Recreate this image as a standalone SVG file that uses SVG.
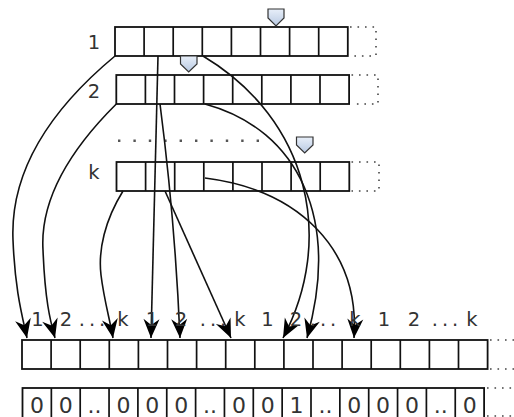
<svg xmlns="http://www.w3.org/2000/svg" width="514" height="417" viewBox="0 0 514 417">
<defs>
<style>
.box{fill:#fff;stroke:#111;stroke-width:1.8}
.div{fill:none;stroke:#111;stroke-width:1.7}
.dot{fill:none;stroke:#444;stroke-width:1.6;stroke-dasharray:1.6 5.9}
.row{fill:none;stroke:#555;stroke-width:2.4;stroke-dasharray:2.4 13}
.conn{fill:none;stroke:#111;stroke-width:1.6;marker-end:url(#ah)}
.lbl{font-family:"DejaVu Sans",sans-serif;font-size:19.5px;fill:#333;text-anchor:middle}
.dots{letter-spacing:4px}
.zero{font-family:"DejaVu Sans",sans-serif;font-size:22px;fill:#333;text-anchor:middle}
.mk{fill:url(#mg);stroke:#333;stroke-width:1.2}
</style>
<linearGradient id="mg" x1="0" y1="0" x2="0" y2="1">
<stop offset="0" stop-color="#e8eff9"/>
<stop offset="1" stop-color="#b8c9e2"/>
</linearGradient>
<marker id="ah" markerUnits="userSpaceOnUse" viewBox="-20 -10 22 20" markerWidth="22" markerHeight="20" refX="0" refY="0" orient="auto">
<path d="M0,0 L-19,-8 L-13,0 L-19,8 Z" fill="#000"/>
</marker>
</defs>

<g id="array-1">
<text class="lbl" x="94" y="49">1</text>
<rect class="box" x="115" y="27" width="232.8" height="29"/>
<path class="div" d="M144.1,27V56M173.2,27V56M202.3,27V56M231.4,27V56M260.5,27V56M289.6,27V56M318.7,27V56"/>
<path class="dot" d="M350,27H376V56H350"/>
<path class="mk" d="M268,9H284V18L276,26L268,18Z"/>
</g>

<g id="array-2">
<text class="lbl" x="94" y="97.5">2</text>
<rect class="box" x="116.3" y="75" width="232.8" height="29"/>
<path class="div" d="M145.4,75V104M174.5,75V104M203.6,75V104M232.7,75V104M261.8,75V104M290.9,75V104M320,75V104"/>
<path class="dot" d="M351.5,75H378V104H351.5"/>
<path class="mk" d="M180.5,56H197V64L188.7,72L180.5,64Z"/>
</g>

<g id="ellipsis-rows">
<path class="row" d="M118,140.7H262"/>
</g>

<g id="array-k">
<text class="lbl" x="94" y="178.5">k</text>
<rect class="box" x="116.5" y="162" width="232.8" height="29"/>
<path class="div" d="M145.6,162V191M174.7,162V191M203.8,162V191M232.9,162V191M262,162V191M291.1,162V191M320.2,162V191"/>
<path class="dot" d="M351.5,162H379V191H351.5"/>
<path class="mk" d="M296.5,137H313V145L304.7,153L296.5,145Z"/>
</g>

<g id="connectors">
<path class="conn" d="M115,56 C50,110 10,170 13,240 C15,290 22,315 27,338"/>
<path class="conn" d="M116.3,104 C70,150 40,200 43,250 C45,300 50,320 55,338"/>
<path class="conn" d="M123,191 C105,220 98,250 101,275 C104,300 110,320 113,338"/>
<path class="conn" d="M158,56 L151,338"/>
<path class="conn" d="M160,104 Q175,220 180,338"/>
<path class="conn" d="M165,191 L231,338"/>
<path class="conn" d="M203,56 C310,120 335,240 283,338"/>
<path class="conn" d="M205,104 C300,130 340,220 307,338"/>
<path class="conn" d="M205,178 C300,190 360,250 354,338"/>
</g>

<g id="labels">
<text class="lbl" x="37.5" y="326">1</text>
<text class="lbl" x="66" y="326">2</text>
<text class="lbl dots" x="94" y="326">...</text>
<text class="lbl" x="123" y="326">k</text>
<text class="lbl" x="152" y="326">1</text>
<text class="lbl" x="181" y="326">2</text>
<text class="lbl dots" x="215" y="326">...</text>
<text class="lbl" x="240" y="326">k</text>
<text class="lbl" x="267.5" y="326">1</text>
<text class="lbl" x="296" y="326">2</text>
<text class="lbl dots" x="325" y="326">...</text>
<text class="lbl" x="355" y="326">k</text>
<text class="lbl" x="384" y="326">1</text>
<text class="lbl" x="414" y="326">2</text>
<text class="lbl dots" x="447" y="326">...</text>
<text class="lbl" x="472" y="326">k</text>
</g>

<g id="bit-array">
<rect class="box" x="22" y="340" width="465.6" height="29"/>
<path class="div" d="M51.1,340V369M80.2,340V369M109.3,340V369M138.4,340V369M167.5,340V369M196.6,340V369M225.7,340V369M254.8,340V369M283.9,340V369M313,340V369M342.1,340V369M371.2,340V369M400.3,340V369M429.4,340V369M458.5,340V369"/>
<path class="dot" d="M490,340H514M490,369H514"/>
</g>

<g id="value-array">
<rect class="box" x="22.5" y="388" width="461.6" height="31"/>
<path class="div" d="M51.35,388V420M80.2,388V420M109.05,388V420M137.9,388V420M166.75,388V420M195.6,388V420M224.45,388V420M253.3,388V420M282.15,388V420M311,388V420M339.85,388V420M368.7,388V420M397.55,388V420M426.4,388V420M455.25,388V420"/>
<path class="dot" d="M487,388H514M487,416H514"/>
<text class="zero" x="36.9" y="413">0</text>
<text class="zero" x="65.8" y="413">0</text>
<text class="zero" x="94.6" y="413">..</text>
<text class="zero" x="123.5" y="413">0</text>
<text class="zero" x="152.3" y="413">0</text>
<text class="zero" x="181.2" y="413">0</text>
<text class="zero" x="210" y="413">..</text>
<text class="zero" x="238.9" y="413">0</text>
<text class="zero" x="267.7" y="413">0</text>
<text class="zero" x="296.6" y="413">1</text>
<text class="zero" x="325.4" y="413">..</text>
<text class="zero" x="354.3" y="413">0</text>
<text class="zero" x="383.1" y="413">0</text>
<text class="zero" x="412" y="413">0</text>
<text class="zero" x="440.8" y="413">..</text>
<text class="zero" x="469.7" y="413">0</text>
</g>
</svg>
